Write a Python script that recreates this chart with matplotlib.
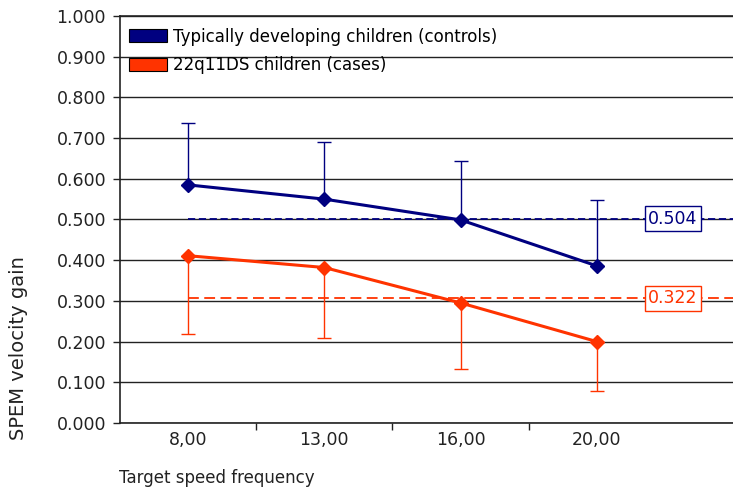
import numpy as np
import matplotlib.pyplot as plt
from matplotlib.patches import Patch

plt.rcParams['font.family'] = ['DejaVu Sans']

# data
categories = ['8,00', '13,00', '16,00', '20,00']
controls = [0.585, 0.550, 0.499, 0.386]
controls_err_up = [0.153, 0.140, 0.145, 0.163]
cases = [0.411, 0.382, 0.295, 0.200]
cases_err_down = [0.193, 0.172, 0.162, 0.121]
mean_levels = [0.502, 0.306]
mean_labels = ['0.504', '0.322']

navy = '#000080'
red = '#ff3300'
ink = '#222222'

fig = plt.figure(figsize=(7.33, 4.95), dpi=100)
ax = fig.add_axes([0.1637, 0.1455, 0.8363, 0.8222])

x = np.arange(len(categories))

# mean reference lines (dashed) with boxed value labels
for level, txt, col, dash in zip(mean_levels, mean_labels, [navy, red], [(4, 2), (6, 3)]):
    ax.hlines(level, x[0], 4.0, colors=col, linestyles=(0, dash), lw=1.3, zorder=3)
    ax.text(3.56, level, txt, color=col, fontsize=12.5, ha='center', va='center', zorder=5,
            bbox=dict(boxstyle='square,pad=0.2', fc='white', ec=col, lw=1))

ax.errorbar(x, controls, yerr=[np.zeros(4), controls_err_up], fmt='none',
            ecolor=navy, elinewidth=1, capsize=5, capthick=1, zorder=4)
ax.errorbar(x, cases, yerr=[cases_err_down, np.zeros(4)], fmt='none',
            ecolor=red, elinewidth=1, capsize=5, capthick=1, zorder=4)
ax.plot(x, controls, color=navy, lw=2.2, marker='D', ms=7, zorder=6)
ax.plot(x, cases, color=red, lw=2.2, marker='D', ms=7, zorder=6)

ax.set_xlim(-0.5, 4.0)
ax.set_ylim(0, 1.0)
ax.set_yticks(np.arange(0, 1.01, 0.1))
ax.set_yticklabels(['%.3f' % v for v in np.arange(0, 1.01, 0.1)])
ax.yaxis.grid(True, color=ink, lw=1)
ax.set_axisbelow(True)

ax.set_xticks(x)
ax.set_xticklabels(categories)
ax.set_xticks([0.5, 1.5, 2.5], minor=True)
ax.tick_params(axis='x', which='major', length=0, pad=6, labelsize=12.5, colors=ink)
ax.tick_params(axis='x', which='minor', length=5, width=1, color=ink)
ax.tick_params(axis='y', length=5, width=1, labelsize=12.5, pad=5, colors=ink)

ax.spines['right'].set_visible(False)
for side in ['left', 'top', 'bottom']:
    ax.spines[side].set_color(ink)
    ax.spines[side].set_linewidth(1.2)

ax.set_ylabel('SPEM velocity gain', fontsize=14, color=ink)
ax.yaxis.set_label_coords(-0.150, 0.185)
fig.text(0.163, 0.025, 'Target speed frequency', fontsize=12, color=ink)

handles = [Patch(facecolor=navy, edgecolor='black', lw=0.8),
           Patch(facecolor=red, edgecolor='black', lw=0.8)]
ax.legend(handles, ['Typically developing children (controls)', '22q11DS children (cases)'],
          loc='upper left', bbox_to_anchor=(-0.005, 1.0), frameon=False, fontsize=12,
          handlelength=2.3, handleheight=0.8, handletextpad=0.35, labelspacing=0.65,
          borderaxespad=0.3)

plt.savefig('out.png', dpi=100)
